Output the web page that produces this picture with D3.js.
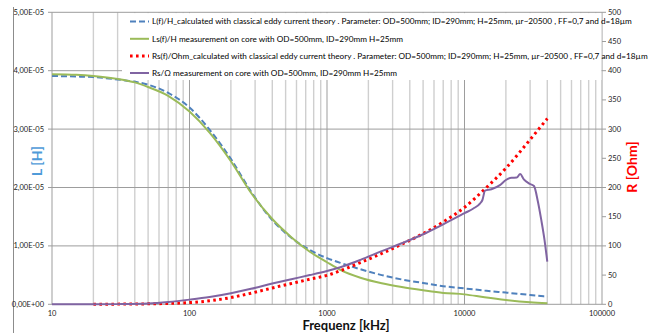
<!DOCTYPE html>
<html>
<head>
  <meta charset="utf-8">
  <title>L and R vs frequency</title>
  <style type="text/css">
    body {
      margin: 0;
      background-color: #fff;
    }
    svg {
      display: block;
      font-family: Lato, "Open Sans", sans-serif;
    }
    .tick-label {
      font-size: 7.5px;
      fill: #222;
    }
    .legend-text {
      font-size: 8.2px;
      fill: #000;
    }
    .axis-title {
      font-size: 14px;
      font-weight: bold;
    }
  </style>
  <script src="https://d3js.org/d3.v7.min.js"></script>
</head>
<body>

<script>
// frequency points (kHz) of the calculated curves and of the Ls measurement
var freqs = [10, 15, 20, 30, 40, 50, 70, 100, 140, 200, 280, 400, 550, 750, 1000,
             1250, 1750, 2500, 3500, 5000, 7000, 10000, 14000, 20000, 30000, 40000];

// L(f)/H calculated (blue dashed)
var lCalc = [3.91e-5, 3.90e-5, 3.89e-5, 3.85e-5, 3.81e-5, 3.76e-5, 3.62e-5, 3.37e-5, 2.99e-5,
             2.49e-5, 1.93e-5, 1.44e-5, 1.14e-5, 0.93e-5, 0.79e-5, 0.71e-5, 0.60e-5, 0.50e-5,
             0.425e-5, 0.365e-5, 0.31e-5, 0.272e-5, 0.235e-5, 0.20e-5, 0.16e-5, 0.13e-5];

// Ls(f)/H measurement (green)
var lMeas = [3.94e-5, 3.93e-5, 3.91e-5, 3.86e-5, 3.80e-5, 3.72e-5, 3.57e-5, 3.30e-5, 2.94e-5,
             2.45e-5, 1.91e-5, 1.46e-5, 1.15e-5, 0.90e-5, 0.72e-5, 0.59e-5, 0.455e-5, 0.36e-5,
             0.295e-5, 0.24e-5, 0.195e-5, 0.17e-5, 0.12e-5, 0.074e-5, 0.035e-5, 0.017e-5];

// Rs(f)/Ohm calculated (red dotted), starts at 20 kHz
var rCalc = [null, null, 0, 0.3, 0.6, 0.8, 1.5, 3, 6, 11.5, 19, 28, 35.5, 43, 49.5,
             57.5, 71.5, 87, 103, 121, 141, 166, 197, 233, 282, 318];

// Rs/Ohm measurement (purple) has its own frequency points
var rMeasFreqs = [10, 20, 30, 50, 70, 100, 140, 200, 280, 400, 550, 750, 1000, 1250, 1750,
                  2500, 3500, 5000, 7000, 10000, 11600, 13000, 13500, 14100, 15700, 18100,
                  20000, 22000, 24000, 25400, 27000, 30000, 32000, 34200, 36200, 38200, 40000];
var rMeas = [0, 0, 0.3, 1.5, 4, 8, 12.5, 19, 26.5, 35.5, 43, 50, 57, 63.5, 76,
             91, 104.5, 120, 137, 156, 164, 173, 178.6, 194.5, 197, 204,
             212.8, 216.8, 217, 223, 214, 206, 202.5, 175.6, 144, 110, 73];

var xTicks = [10, 100, 1000, 10000, 100000];
var lTicks = [0, 1e-5, 2e-5, 3e-5, 4e-5, 5e-5];
var lTickLabels = ["0,00E+00", "1,00E-05", "2,00E-05", "3,00E-05", "4,00E-05", "5,00E-05"];
var rTicks = [0, 50, 100, 150, 200, 250, 300, 350, 400, 450, 500];

var legendLabels = [
  "L(f)/H_calculated with classical  eddy current theory . Parameter:  OD=500mm; ID=290mm; H=25mm, \u00b5r~20500 , FF=0,7 and d=18\u00b5m",
  "Ls(f)/H measurement on core with OD=500mm, ID=290mm H=25mm",
  "Rs(f)/Ohm_calculated with classical  eddy current theory . Parameter:  OD=500mm; ID=290mm; H=25mm, \u00b5r~20500 , FF=0,7 and d=18\u00b5m",
  "Rs/\u03a9 measurement on core with OD=500mm, ID=290mm H=25mm"
];

var width = 651, height = 333;
// plot area edges (named so they do not clash with window.top)
var plotLeft = 52, plotRight = 602, plotTop = 12.3, plotBottom = 304.3;

var svg = d3.select("body").append("svg")
  .attr("width", width)
  .attr("height", height);

var x = d3.scaleLog().domain([10, 100000]).range([plotLeft, plotRight]);
var yL = d3.scaleLinear().domain([0, 5e-5]).range([plotBottom, plotTop]);
var yR = d3.scaleLinear().domain([0, 500]).range([plotBottom, plotTop]);

// outer border on the left
svg.append("line")
  .attr("x1", 13.5).attr("x2", 13.5).attr("y1", 7).attr("y2", 333)
  .style("stroke", "#8c8c8c");

// minor vertical grid
var allX = x.ticks();
var isMajor = function(d) { return Math.abs(Math.log10(d) - Math.round(Math.log10(d))) < 1e-9; };

svg.append("g").selectAll("line")
  .data(allX.filter(function(d) { return !isMajor(d); }))
  .enter().append("line")
  .attr("x1", function(d) { return x(d); })
  .attr("x2", function(d) { return x(d); })
  .attr("y1", plotTop).attr("y2", plotBottom)
  .style("stroke", "#cfcfcf")
  .style("stroke-width", 1.4);

// major grid
svg.append("g").selectAll("line")
  .data(xTicks)
  .enter().append("line")
  .attr("x1", function(d) { return x(d); })
  .attr("x2", function(d) { return x(d); })
  .attr("y1", plotTop).attr("y2", plotBottom)
  .style("stroke", "#9d9d9d");

svg.append("g").selectAll("line")
  .data(lTicks)
  .enter().append("line")
  .attr("x1", plotLeft - 4).attr("x2", plotRight)
  .attr("y1", function(d) { return yL(d); })
  .attr("y2", function(d) { return yL(d); })
  .style("stroke", "#9d9d9d");

// right axis ticks
svg.append("g").selectAll("line")
  .data(rTicks)
  .enter().append("line")
  .attr("x1", plotRight).attr("x2", plotRight + 4)
  .attr("y1", function(d) { return yR(d); })
  .attr("y2", function(d) { return yR(d); })
  .style("stroke", "#9d9d9d");

// legend box covers the grid
svg.append("rect")
  .attr("x", 122).attr("y", plotTop + 0.8)
  .attr("width", plotRight - 122 - 0.6).attr("height", 80 - plotTop - 0.8)
  .style("fill", "#fff");

// tick labels
svg.append("g").selectAll("text")
  .data(lTicks)
  .enter().append("text")
  .attr("class", "tick-label")
  .attr("x", 44)
  .attr("y", function(d) { return yL(d) + 2.5; })
  .attr("text-anchor", "end")
  .text(function(d, i) { return lTickLabels[i]; });

svg.append("g").selectAll("text")
  .data(rTicks)
  .enter().append("text")
  .attr("class", "tick-label")
  .attr("x", 608)
  .attr("y", function(d) { return yR(d) + 2.5; })
  .text(function(d) { return d; });

svg.append("g").selectAll("text")
  .data(xTicks)
  .enter().append("text")
  .attr("class", "tick-label")
  .attr("x", function(d) { return x(d); })
  .attr("y", 316)
  .attr("text-anchor", "middle")
  .text(function(d) { return d; });

// axis titles
svg.append("text")
  .attr("class", "axis-title")
  .attr("x", 346).attr("y", 330)
  .attr("text-anchor", "middle")
  .style("font-size", "13px")
  .style("fill", "#111")
  .text("Frequenz [kHz]");

svg.append("text")
  .attr("class", "axis-title")
  .attr("transform", "translate(42,161) rotate(-90)")
  .attr("text-anchor", "middle")
  .style("fill", "#4f9bd9")
  .text("L [H]");

svg.append("text")
  .attr("class", "axis-title")
  .attr("transform", "translate(637,167) rotate(-90)")
  .attr("text-anchor", "middle")
  .style("fill", "#ff0000")
  .text("R [Ohm]");

// curves
var series = [
  {fx: freqs, v: lCalc, y: yL, color: "#4f81bd", dash: "6,3", w: 2},
  {fx: freqs, v: lMeas, y: yL, color: "#9bbb59", dash: null, w: 2},
  {fx: freqs, v: rCalc, y: yR, color: "#ff0000", dash: "2.6,3.4", w: 3},
  {fx: rMeasFreqs, v: rMeas, y: yR, color: "#8064a2", dash: null, w: 2}
];

series.forEach(function(s) {
  var pts = s.fx.map(function(f, i) { return [f, s.v[i]]; });
  var line = d3.line()
    .defined(function(d) { return d[1] !== null; })
    .x(function(d) { return x(d[0]); })
    .y(function(d) { return s.y(d[1]); })
    .curve(d3.curveMonotoneX);
  svg.append("path")
    .attr("d", line(pts))
    .style("fill", "none")
    .style("stroke", s.color)
    .style("stroke-width", s.w)
    .style("stroke-dasharray", s.dash);
});

// legend
var legendY = [21.5, 38.8, 56, 73];
var leg = svg.append("g").selectAll("g")
  .data(series)
  .enter().append("g")
  .attr("transform", function(d, i) { return "translate(130," + legendY[i] + ")"; });

leg.append("line")
  .attr("x1", 0).attr("x2", 19)
  .style("stroke", function(d) { return d.color; })
  .style("stroke-width", function(d) { return d.w; })
  .style("stroke-dasharray", function(d) { return d.dash; });

leg.append("text")
  .attr("class", "legend-text")
  .attr("x", 22)
  .attr("y", 2.8)
  .text(function(d, i) { return legendLabels[i]; });
</script>

</body>
</html>
